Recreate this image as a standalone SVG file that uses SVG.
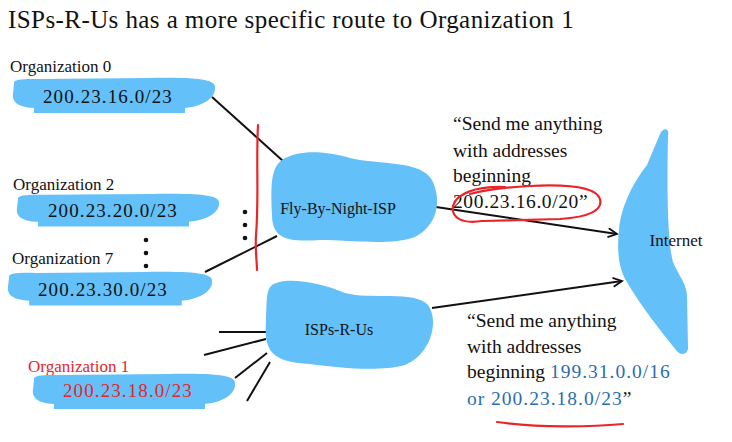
<svg xmlns="http://www.w3.org/2000/svg" width="732" height="442" viewBox="0 0 732 442" font-family="'Liberation Serif', 'Times New Roman', serif">
<style>
text{font-family:'Liberation Serif','Times New Roman',serif;fill:#111}
.blob{fill:#63c0f9}
.lbl{font-size:17px}
.addr{font-size:19px;letter-spacing:1.1px}
.node{font-size:16px}
.say{font-size:19.5px}
.blue{fill:#2b6ead;letter-spacing:1px}
.red{fill:#e3262b}
.ln{stroke:#111;stroke-width:2;fill:none}
.rd{stroke:#e8262a;stroke-width:2.2;fill:none;stroke-linecap:round}
</style>
<defs>
<path id="org" d="M4 7 C2 1 20 2 30 2 L140 1 C190 0 205 3 205 10 C206 20 195 29 175 31 L175 36 L24 36 L24 31 C6 30 2 24 3 16 Z"/>
<marker id="arr" markerWidth="12" markerHeight="12" refX="10" refY="5" orient="auto" markerUnits="userSpaceOnUse">
<path d="M1 0.5 L10 5 L1 9.5" fill="none" stroke="#111" stroke-width="1.8"/>
</marker>
</defs>

<text x="8" y="28" style="font-size:25px;letter-spacing:0.42px">ISPs-R-Us has a more specific route to Organization 1</text>

<g id="connectors">
<line class="ln" x1="212" y1="97" x2="283" y2="161"/>
<line class="ln" x1="205" y1="272" x2="277" y2="236"/>
<line class="ln" x1="436" y1="207" x2="617" y2="234" marker-end="url(#arr)"/>
<line class="ln" x1="432" y1="308" x2="622" y2="281" marker-end="url(#arr)"/>
<line class="ln" x1="219" y1="332" x2="266" y2="332"/>
<line class="ln" x1="204" y1="355" x2="266" y2="339"/>
<line class="ln" x1="235" y1="378" x2="267" y2="353"/>
<line class="ln" x1="247" y1="401" x2="270" y2="362"/>
</g>

<g id="dots" fill="#111">
<circle cx="146" cy="240" r="2.3"/><circle cx="146" cy="253" r="2.3"/><circle cx="146" cy="266" r="2.3"/>
<circle cx="245" cy="212" r="2.3"/><circle cx="245" cy="225" r="2.3"/><circle cx="245" cy="238" r="2.3"/>
</g>

<g id="org0">
<text class="lbl" x="10" y="72">Organization 0</text>
<use href="#org" class="blob" transform="translate(10,77)"/>
<text class="addr" x="43" y="103">200.23.16.0/23</text>
</g>
<g id="org2">
<text class="lbl" x="13" y="190">Organization 2</text>
<use href="#org" class="blob" transform="translate(14,193) scale(1,0.93)"/>
<text class="addr" x="48" y="217">200.23.20.0/23</text>
</g>
<g id="org7">
<text class="lbl" x="12" y="264">Organization 7</text>
<use href="#org" class="blob" transform="translate(5,271) scale(1.01,0.96)"/>
<text class="addr" x="38" y="296">200.23.30.0/23</text>
</g>
<g id="org1">
<text class="lbl red" x="28" y="372">Organization 1</text>
<use href="#org" class="blob" transform="translate(30,373)"/>
<text class="addr red" x="63" y="397">200.23.18.0/23</text>
</g>

<path class="rd" d="M258 125 C256 160 259 200 256 235 C255 250 257 262 257 270"/>

<g id="flybynight">
<path class="blob" d="M282 160 C300 148 330 152 350 158 C380 165 420 160 432 180 C442 200 438 225 415 237 C390 246 350 240 320 240 C290 242 272 240 272 215 C271 190 270 168 282 160 Z"/>
<text class="node" x="338" y="214" text-anchor="middle">Fly-By-Night-ISP</text>
</g>

<g id="ispsrus">
<path class="blob" d="M272 285 C285 276 320 282 345 293 C370 300 415 290 428 305 C440 322 430 355 405 365 C380 372 340 368 310 364 C270 362 264 350 266 320 C267 300 266 290 272 285 Z"/>
<text class="node" x="339" y="335" text-anchor="middle">ISPs-R-Us</text>
</g>

<g id="internet">
<path class="blob" d="M660 134 C663 127 670 128 668 136 C667 180 667 240 673 262 C678 275 686 282 687 295 L688 348 C688 355 680 356 676 350 C660 330 640 305 627 282 C618 268 617 250 619 230 C621 205 635 180 647 165 Z"/>
<text x="676" y="246" text-anchor="middle" style="font-size:17px">Internet</text>
</g>

<g id="msg1">
<text class="say" x="453" y="130">“Send me anything</text>
<text class="say" x="453" y="157">with addresses</text>
<text class="say" x="453" y="182">beginning</text>
<text class="say" x="453" y="208" style="letter-spacing:0.6px">200.23.16.0/20”</text>
<path class="rd" d="M505 187 C475 186 456 194 453 206 C451 218 462 224 482 221 L560 219 C590 217 603 210 600 199 C596 187 570 184 530 186 C510 187 485 190 470 194"/>
</g>

<g id="msg2">
<text class="say" x="467" y="327">“Send me anything</text>
<text class="say" x="467" y="353">with addresses</text>
<text class="say" x="467" y="378">beginning <tspan class="blue">199.31.0.0/16</tspan></text>
<text class="say" x="467" y="405"><tspan class="blue">or 200.23.18.0/23</tspan>”</text>
<path class="rd" d="M497 422 C540 428 590 427 623 424"/>
</g>
</svg>
